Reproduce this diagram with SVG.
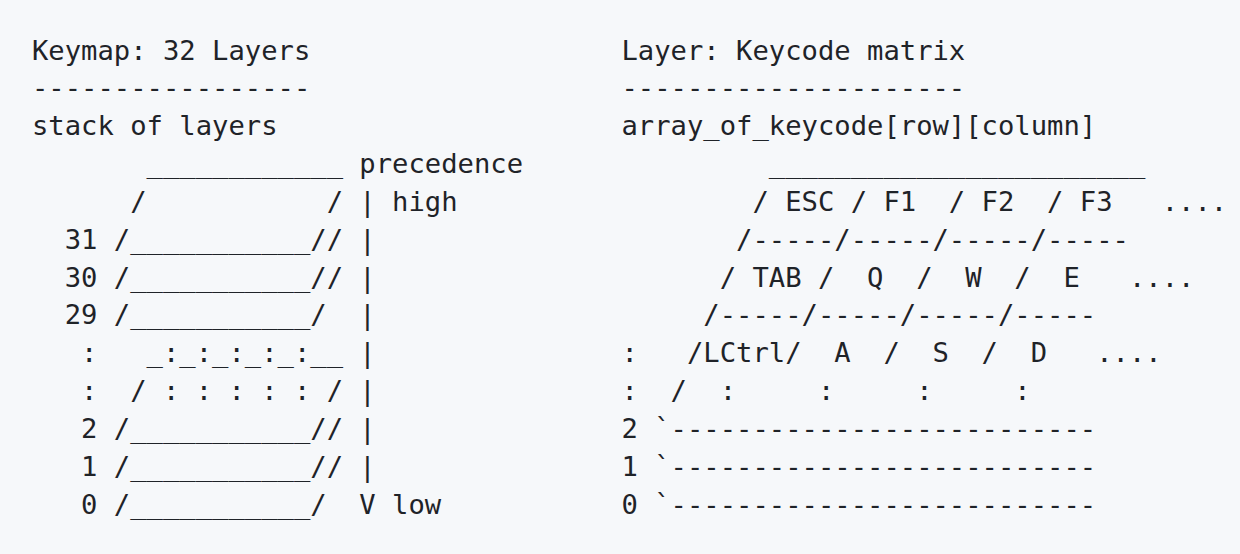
<svg xmlns="http://www.w3.org/2000/svg" width="1240" height="554" viewBox="0 0 1240 554">
<style>
text{font-family:"DejaVu Sans Mono","Liberation Mono",monospace;font-size:27.2px;fill:#1f2328;white-space:pre}
</style>
<rect x="0" y="0" width="1240" height="554" fill="#f6f8fa"/>
<g id="keymap-layers" xml:space="preserve">
<text x="32" y="59.5">Keymap: 32 Layers</text>
<text x="32" y="97.3">-----------------</text>
<text x="32" y="135.2">stack of layers</text>
<text x="32" y="173">       ____________ precedence</text>
<text x="32" y="210.8">      /           / | high</text>
<text x="32" y="248.7">  31 /___________// |</text>
<text x="32" y="286.5">  30 /___________// |</text>
<text x="32" y="324.3">  29 /___________/  |</text>
<text x="32" y="362.2">   :   _:_:_:_:_:__ |</text>
<text x="32" y="400">   :  / : : : : : / |</text>
<text x="32" y="437.8">   2 /___________// |</text>
<text x="32" y="475.7">   1 /___________// |</text>
<text x="32" y="513.5">   0 /___________/  V low</text>
</g>
<g id="keycode-matrix" xml:space="preserve">
<text x="621.5" y="59.5">Layer: Keycode matrix</text>
<text x="621.5" y="97.3">---------------------</text>
<text x="621.5" y="135.2">array_of_keycode[row][column]</text>
<text x="621.5" y="173">         _______________________</text>
<text x="621.5" y="210.8">        / ESC / F1  / F2  / F3   ....</text>
<text x="621.5" y="248.7">       /-----/-----/-----/-----</text>
<text x="621.5" y="286.5">      / TAB /  Q  /  W  /  E   ....</text>
<text x="621.5" y="324.3">     /-----/-----/-----/-----</text>
<text x="621.5" y="362.2">:   /LCtrl/  A  /  S  /  D   ....</text>
<text x="621.5" y="400">:  /  :     :     :     :</text>
<text x="621.5" y="437.8">2 `--------------------------</text>
<text x="621.5" y="475.7">1 `--------------------------</text>
<text x="621.5" y="513.5">0 `--------------------------</text>
</g>
</svg>
